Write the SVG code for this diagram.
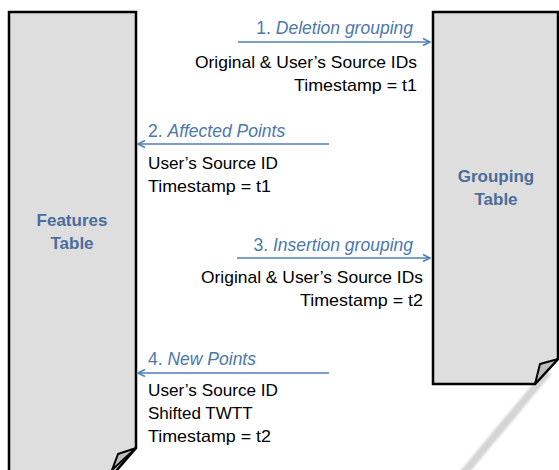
<svg xmlns="http://www.w3.org/2000/svg" width="559" height="470" viewBox="0 0 559 470">
<defs>
<style>
.doc{fill:#dedede;stroke:#000;stroke-width:2.5;stroke-linejoin:miter}
.fold{fill:#bdbdbd;stroke:#000;stroke-width:2;stroke-linejoin:round}
.title{font-family:"Liberation Sans",Arial,sans-serif;font-size:17px;font-weight:bold;fill:#4a6d9c;text-anchor:middle}
.lbl{font-family:"Liberation Sans",Arial,sans-serif;font-size:17.5px;fill:#4a78ad}
.txt{font-family:"Liberation Sans",Arial,sans-serif;font-size:17px;fill:#000}
.conn{stroke:#4f7fb8;stroke-width:1.5;fill:none}
</style>
<marker id="ah" markerWidth="10" markerHeight="10" refX="8" refY="5" orient="auto" markerUnits="userSpaceOnUse">
<path d="M1,1.5 L8,5 L1,8.5" fill="none" stroke="#4f7fb8" stroke-width="1.5"/>
</marker>
<filter id="blur" x="-20%" y="-20%" width="140%" height="140%"><feGaussianBlur stdDeviation="1.2"/></filter>
</defs>
<line x1="548" y1="372" x2="462" y2="475" stroke="#d4d4d4" stroke-width="8" filter="url(#blur)"/>
<g id="features-table">
<path class="doc" d="M9,12 L136,12 L136,448 L110,478 L9,478 Z"/>
<path class="fold" d="M136,448 L118,454 L112,470 Z"/>
<text class="title" x="72" y="226">Features</text>
<text class="title" x="72" y="249">Table</text>
</g>
<g id="grouping-table">
<path class="doc" d="M433,12 L558,12 L558,359 L535,384 L433,384 Z"/>
<path class="fold" d="M558,359 L540,364 L535,384 Z"/>
<text class="title" x="496" y="182">Grouping</text>
<text class="title" x="496" y="205">Table</text>
</g>
<g id="connectors">
<line class="conn" x1="238" y1="42" x2="430" y2="42" marker-end="url(#ah)"/>
<line class="conn" x1="329" y1="144" x2="138" y2="144" marker-end="url(#ah)"/>
<line class="conn" x1="237" y1="258" x2="430" y2="258" marker-end="url(#ah)"/>
<line class="conn" x1="329" y1="373" x2="138" y2="373" marker-end="url(#ah)"/>
</g>
<g id="labels">
<text class="lbl" x="413" y="34" text-anchor="end">1. <tspan font-style="italic">Deletion grouping</tspan></text>
<text class="txt" x="417" y="68" text-anchor="end" textLength="222" lengthAdjust="spacingAndGlyphs">Original &amp; User’s Source IDs</text>
<text class="txt" x="417" y="91" text-anchor="end" textLength="123" lengthAdjust="spacingAndGlyphs">Timestamp = t1</text>
<text class="lbl" x="148" y="137">2. <tspan font-style="italic">Affected Points</tspan></text>
<text class="txt" x="148" y="169" textLength="130" lengthAdjust="spacingAndGlyphs">User’s Source ID</text>
<text class="txt" x="148" y="192" textLength="123" lengthAdjust="spacingAndGlyphs">Timestamp = t1</text>
<text class="lbl" x="413" y="251" text-anchor="end">3. <tspan font-style="italic">Insertion grouping</tspan></text>
<text class="txt" x="423" y="283" text-anchor="end" textLength="222" lengthAdjust="spacingAndGlyphs">Original &amp; User’s Source IDs</text>
<text class="txt" x="423" y="306" text-anchor="end" textLength="123" lengthAdjust="spacingAndGlyphs">Timestamp = t2</text>
<text class="lbl" x="148" y="365">4. <tspan font-style="italic">New Points</tspan></text>
<text class="txt" x="148" y="396" textLength="130" lengthAdjust="spacingAndGlyphs">User’s Source ID</text>
<text class="txt" x="148" y="419">Shifted TWTT</text>
<text class="txt" x="148" y="442" textLength="123" lengthAdjust="spacingAndGlyphs">Timestamp = t2</text>
</g>
</svg>
